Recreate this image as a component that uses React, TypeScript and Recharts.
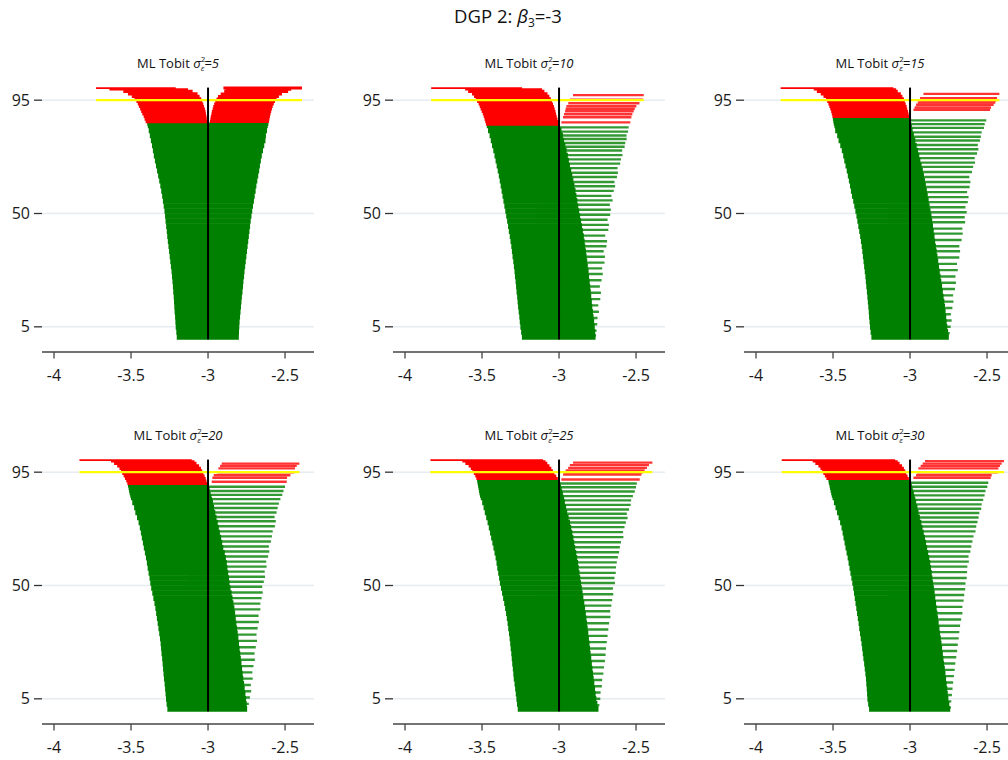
import React from 'react';
import { ScatterChart, Scatter, XAxis, YAxis, CartesianGrid, ReferenceLine } from 'recharts';

// [rank, lower bound, upper bound]
type Interval = [number, number, number];

const TRUE_BETA = -3;
const COVERAGE = 95;

const sigmaLevels = [5, 10, 15, 20, 25, 30];
const xTicks = [-4, -3.5, -3, -2.5];
const yTicks = [5, 50, 95];

// Centile bands for the dense body of each zipper (finer near the top where it bends)
const rankBands = [
  0, 2, 4, 6, 8, 10, 12, 14, 16, 18, 20, 22, 24, 26, 28, 30, 32, 34, 36, 38, 40,
  42, 44, 46, 48, 50, 52, 54, 56, 58, 60, 62, 64, 66, 68, 70, 72, 74, 76, 78, 80,
  82, 84, 85, 86, 87, 88, 89, 90, 91, 92, 93, 94, 95, 96, 97, 98, 99, 99.6, 100,
];

// ---- sigma^2 = 5 ----
const tobit5Lo = [
  -3.203, -3.206, -3.21, -3.212, -3.214, -3.217, -3.219, -3.221, -3.223, -3.226,
  -3.228, -3.231, -3.234, -3.237, -3.241, -3.245, -3.249, -3.253, -3.257, -3.261,
  -3.265, -3.268, -3.272, -3.276, -3.279, -3.283, -3.288, -3.293, -3.298, -3.304,
  -3.31, -3.317, -3.324, -3.331, -3.338, -3.345, -3.352, -3.358, -3.364, -3.371,
  -3.378, -3.385,
  -3.391, -3.395, -3.405, -3.412, -3.418, -3.427, -3.434, -3.441, -3.449, -3.456,
  -3.465, -3.478, -3.495, -3.52, -3.55, -3.64, -3.727,
];
const tobit5Hi = [
  -2.8, -2.799, -2.797, -2.795, -2.792, -2.789, -2.786, -2.783, -2.78, -2.776,
  -2.773, -2.77, -2.766, -2.763, -2.759, -2.755, -2.751, -2.747, -2.743, -2.739,
  -2.735, -2.731, -2.727, -2.723, -2.718, -2.713, -2.708, -2.702, -2.697, -2.691,
  -2.686, -2.68, -2.674, -2.668, -2.663, -2.657, -2.651, -2.643, -2.635, -2.627,
  -2.624, -2.617,
  -2.612, -2.608, -3.006, -3.008, -3.01, -3.013, -3.016, -3.02, -3.026, -3.031,
  -3.037, -3.044, -3.055, -3.068, -3.1, -3.13, -3.21,
];
const tobit5Upper: Interval[] = [
  [86.5, -2.988, -2.604], [87.5, -2.985, -2.601], [88.5, -2.982, -2.598], [89.5, -2.978, -2.594],
  [90.5, -2.975, -2.59], [91.5, -2.97, -2.585], [92.5, -2.966, -2.58], [93.5, -2.96, -2.573],
  [94.5, -2.953, -2.565], [95.5, -2.945, -2.555], [96.5, -2.935, -2.54], [97.5, -2.918, -2.52],
  [98.5, -2.895, -2.48], [99.3, -2.885, -2.46], [99.8, -2.9, -2.39],
];

// ---- sigma^2 = 10 ----
const tobit10Lo = [
  -3.241, -3.246, -3.251, -3.255, -3.258, -3.262, -3.266, -3.269, -3.272, -3.276,
  -3.279, -3.282, -3.286, -3.289, -3.293, -3.297, -3.302, -3.306, -3.31, -3.315,
  -3.32, -3.326, -3.331, -3.337, -3.343, -3.349, -3.355, -3.361, -3.367, -3.373,
  -3.379, -3.385, -3.391, -3.398, -3.405, -3.412, -3.419, -3.427, -3.435, -3.443,
  -3.451, -3.461,
  -3.469, -3.474, -3.479, -3.484, -3.489, -3.495, -3.502, -3.509, -3.515, -3.522,
  -3.532, -3.541, -3.552, -3.565, -3.59, -3.61, -3.83,
];
const tobit10Hi = [
  -2.763, -2.765, -2.768, -2.772, -2.776, -2.78, -2.784, -2.787, -2.791, -2.794,
  -2.798, -2.801, -2.805, -2.808, -2.813, -2.817, -2.821, -2.825, -2.83, -2.834,
  -2.839, -2.845, -2.851, -2.857, -2.863, -2.869, -2.875, -2.881, -2.887, -2.893,
  -2.9, -2.907, -2.914, -2.921, -2.929, -2.936, -2.943, -2.951, -2.959, -2.967,
  -2.975, -2.984,
  -2.994, -3.003, -3.006, -3.01, -3.015, -3.019, -3.023, -3.028, -3.033, -3.039,
  -3.046, -3.053, -3.063, -3.075, -3.095, -3.11, -3.24,
];
const tobit10Upper: Interval[] = [
  [97, -2.909, -2.45], [95.2, -2.93, -2.455], [93.8, -2.94, -2.478], [92.6, -2.952, -2.498],
  [91.6, -2.957, -2.508], [90.6, -2.961, -2.515], [89.4, -2.968, -2.524], [88.2, -2.974, -2.53],
  [86.2, -2.985, -2.537],
  [84.2, -3.012, -2.548], [82.5, -3.02, -2.552], [81, -3.028, -2.562], [79.6, -3.035, -2.561],
  [78, -3.042, -2.57], [76.5, -3.05, -2.574], [75, -3.056, -2.59], [73.2, -3.064, -2.588],
  [71.5, -3.07, -2.598], [69.8, -3.078, -2.603], [68, -3.085, -2.62], [66.2, -3.092, -2.618],
  [64.5, -3.1, -2.624], [62.5, -3.106, -2.64], [60.8, -3.112, -2.636], [59, -3.118, -2.645],
  [57, -3.124, -2.66], [55.2, -3.13, -2.652], [53.5, -3.136, -2.67], [51.5, -3.142, -2.664],
  [49.5, -3.147, -2.668], [47.5, -3.152, -2.685], [45.5, -3.158, -2.676], [43.5, -3.162, -2.68],
  [41.2, -3.168, -2.7], [39, -3.172, -2.688], [37, -3.177, -2.692], [35, -3.182, -2.71],
  [32.8, -3.186, -2.702], [30.5, -3.19, -2.705], [28.2, -3.195, -2.72], [26, -3.199, -2.716],
  [23.5, -3.203, -2.724], [21, -3.207, -2.735], [18.5, -3.211, -2.728], [16, -3.215, -2.732],
  [13.5, -3.219, -2.745], [11, -3.222, -2.741], [8.5, -3.226, -2.75], [6, -3.229, -2.752],
  [3.5, -3.232, -2.756], [1.5, -3.235, -2.76],
];

// ---- sigma^2 = 15 ----
const tobit15Lo = [
  -3.251, -3.256, -3.26, -3.263, -3.266, -3.268, -3.271, -3.274, -3.277, -3.28,
  -3.284, -3.287, -3.29, -3.294, -3.298, -3.302, -3.306, -3.31, -3.314, -3.319,
  -3.324, -3.33, -3.336, -3.342, -3.348, -3.355, -3.362, -3.369, -3.377, -3.384,
  -3.39, -3.397, -3.404, -3.411, -3.419, -3.427, -3.434, -3.443, -3.453, -3.464,
  -3.473, -3.486,
  -3.491, -3.495, -3.498, -3.501, -3.504, -3.508, -3.512, -3.518, -3.524, -3.53,
  -3.538, -3.546, -3.562, -3.58, -3.605, -3.625, -3.84,
];
const tobit15Hi = [
  -2.748, -2.753, -2.758, -2.762, -2.765, -2.769, -2.773, -2.777, -2.782, -2.787,
  -2.792, -2.797, -2.802, -2.807, -2.812, -2.817, -2.822, -2.827, -2.832, -2.837,
  -2.841, -2.846, -2.851, -2.856, -2.861, -2.867, -2.873, -2.879, -2.885, -2.891,
  -2.897, -2.903, -2.91, -2.917, -2.925, -2.933, -2.94, -2.948, -2.957, -2.966,
  -2.975, -2.983,
  -2.988, -2.991, -2.995, -2.998, -3.005, -3.009, -3.013, -3.018, -3.022, -3.028,
  -3.034, -3.04, -3.05, -3.06, -3.08, -3.09, -3.108,
];
const tobit15Upper: Interval[] = [
  [97.5, -2.913, -2.42], [95.8, -2.935, -2.435], [95, -2.94, -2.44], [94.1, -2.95, -2.446],
  [93.2, -2.961, -2.457], [92.1, -2.97, -2.474], [91.2, -2.978, -2.48],
  [87, -3.008, -2.505], [85.5, -3.015, -2.515], [84, -3.022, -2.52], [82.2, -3.03, -2.535],
  [80.5, -3.037, -2.54], [79, -3.044, -2.546], [77.2, -3.051, -2.56], [75.5, -3.058, -2.556],
  [73.8, -3.065, -2.565], [72, -3.072, -2.58], [70.2, -3.079, -2.578], [68.5, -3.086, -2.59],
  [66.5, -3.093, -2.598], [64.5, -3.1, -2.615], [62.5, -3.106, -2.608], [60.5, -3.112, -2.613],
  [58.5, -3.118, -2.63], [56.5, -3.124, -2.62], [54.5, -3.13, -2.625], [52.5, -3.136, -2.64],
  [50.5, -3.141, -2.632], [48.5, -3.146, -2.645], [46.5, -3.151, -2.642], [44, -3.157, -2.66],
  [42, -3.162, -2.658], [39.5, -3.168, -2.665], [37, -3.173, -2.68], [35, -3.178, -2.675],
  [32.5, -3.183, -2.68], [30, -3.188, -2.695], [27.5, -3.193, -2.69], [25, -3.198, -2.705],
  [22.5, -3.202, -2.702], [20, -3.207, -2.708], [17.5, -3.211, -2.72], [15, -3.215, -2.718],
  [12.5, -3.219, -2.725], [10, -3.223, -2.735], [7.5, -3.227, -2.73], [5, -3.23, -2.736],
  [2.5, -3.234, -2.742],
];

// ---- sigma^2 = 20 ----
const tobit20Lo = [
  -3.264, -3.269, -3.273, -3.276, -3.279, -3.282, -3.286, -3.289, -3.292, -3.295,
  -3.298, -3.302, -3.305, -3.308, -3.312, -3.317, -3.322, -3.327, -3.332, -3.337,
  -3.342, -3.348, -3.355, -3.362, -3.369, -3.375, -3.38, -3.386, -3.392, -3.397,
  -3.403, -3.41, -3.417, -3.423, -3.43, -3.436, -3.443, -3.451, -3.461, -3.472,
  -3.48, -3.492,
  -3.5, -3.505, -3.509, -3.513, -3.516, -3.52, -3.524, -3.531, -3.539, -3.548,
  -3.557, -3.565, -3.575, -3.59, -3.61, -3.63, -3.835,
];
const tobit20Hi = [
  -2.746, -2.749, -2.753, -2.757, -2.762, -2.766, -2.771, -2.775, -2.779, -2.783,
  -2.787, -2.791, -2.795, -2.799, -2.803, -2.807, -2.811, -2.816, -2.82, -2.824,
  -2.829, -2.835, -2.841, -2.847, -2.854, -2.86, -2.864, -2.869, -2.874, -2.878,
  -2.884, -2.891, -2.901, -2.908, -2.915, -2.923, -2.93, -2.937, -2.945, -2.953,
  -2.961, -2.968,
  -2.974, -2.978, -2.983, -2.987, -2.99, -2.995, -3.005, -3.01, -3.015, -3.022,
  -3.03, -3.038, -3.046, -3.058, -3.075, -3.088, -3.106,
];
const tobit20Upper: Interval[] = [
  [98.4, -2.911, -2.407], [97.5, -2.922, -2.424], [96.5, -2.933, -2.435], [95, -2.94, -2.44],
  [93.8, -2.963, -2.465], [92.8, -2.972, -2.487], [91.2, -2.976, -2.489],
  [89.2, -3.006, -2.5], [87.5, -3.012, -2.51], [86, -3.018, -2.518], [84.3, -3.025, -2.53],
  [82.5, -3.032, -2.54], [80.8, -3.039, -2.548], [79, -3.046, -2.555], [77.2, -3.053, -2.568],
  [75.5, -3.06, -2.56], [73.5, -3.067, -2.566], [71.5, -3.074, -2.58], [69.5, -3.081, -2.585],
  [67.5, -3.088, -2.592], [65.5, -3.095, -2.605], [63.5, -3.101, -2.602], [61.5, -3.107, -2.61],
  [59.5, -3.113, -2.622], [57.5, -3.119, -2.62], [55.5, -3.125, -2.632], [53.5, -3.131, -2.63],
  [51.5, -3.137, -2.638], [49.5, -3.142, -2.648], [47.2, -3.148, -2.645], [45, -3.153, -2.652],
  [42.8, -3.159, -2.66], [40.5, -3.164, -2.66], [38, -3.17, -2.672], [35.5, -3.175, -2.67],
  [33, -3.18, -2.678], [30.5, -3.186, -2.685], [28, -3.191, -2.682], [25.5, -3.196, -2.69],
  [23, -3.2, -2.698], [20.5, -3.205, -2.696], [18, -3.21, -2.705], [15.5, -3.214, -2.712],
  [13, -3.218, -2.71], [10.5, -3.222, -2.722], [8, -3.226, -2.72], [5.5, -3.23, -2.728],
  [3, -3.234, -2.735],
];

// ---- sigma^2 = 25 ----
const tobit25Lo = [
  -3.268, -3.273, -3.277, -3.281, -3.285, -3.289, -3.294, -3.297, -3.3, -3.304,
  -3.307, -3.31, -3.314, -3.317, -3.321, -3.325, -3.33, -3.334, -3.339, -3.344,
  -3.35, -3.356, -3.363, -3.37, -3.377, -3.384, -3.389, -3.395, -3.401, -3.406,
  -3.412, -3.419, -3.426, -3.433, -3.441, -3.448, -3.456, -3.464, -3.473, -3.482,
  -3.49, -3.499,
  -3.508, -3.513, -3.517, -3.52, -3.523, -3.526, -3.529, -3.532, -3.537, -3.544,
  -3.553, -3.562, -3.573, -3.587, -3.608, -3.628, -3.835,
];
const tobit25Hi = [
  -2.744, -2.751, -2.758, -2.762, -2.766, -2.771, -2.775, -2.779, -2.783, -2.787,
  -2.791, -2.795, -2.799, -2.802, -2.806, -2.81, -2.814, -2.818, -2.822, -2.826,
  -2.831, -2.836, -2.842, -2.847, -2.852, -2.857, -2.862, -2.867, -2.872, -2.876,
  -2.882, -2.888, -2.895, -2.901, -2.907, -2.914, -2.921, -2.929, -2.938, -2.947,
  -2.954, -2.962,
  -2.967, -2.971, -2.975, -2.979, -2.983, -2.987, -2.992, -2.997, -3.008, -3.018,
  -3.03, -3.04, -3.05, -3.062, -3.076, -3.088, -3.104,
];
const tobit25Upper: Interval[] = [
  [98.8, -2.909, -2.394], [97.8, -2.93, -2.416], [96.7, -2.941, -2.429], [95.7, -2.957, -2.444],
  [95, -2.96, -2.455], [94.1, -2.974, -2.465], [92.1, -2.985, -2.476],
  [90.5, -3.004, -2.495], [89, -3.01, -2.5], [87.3, -3.016, -2.508], [85.5, -3.023, -2.52],
  [83.8, -3.03, -2.532], [82, -3.036, -2.535], [80.2, -3.043, -2.545], [78.5, -3.05, -2.56],
  [76.8, -3.056, -2.555], [75, -3.063, -2.566], [73.2, -3.07, -2.575], [71.2, -3.077, -2.585],
  [69.2, -3.084, -2.582], [67.2, -3.091, -2.598], [65.2, -3.098, -2.605], [63.2, -3.104, -2.61],
  [61.2, -3.11, -2.618], [59.2, -3.116, -2.625], [57.2, -3.122, -2.63], [55, -3.128, -2.632],
  [53, -3.134, -2.64], [51, -3.139, -2.637], [48.8, -3.145, -2.65], [46.5, -3.15, -2.648],
  [44.2, -3.156, -2.655], [42, -3.161, -2.66], [39.8, -3.166, -2.668], [37.5, -3.171, -2.666],
  [35, -3.177, -2.675], [32.5, -3.182, -2.68], [30, -3.187, -2.685], [27.5, -3.192, -2.69],
  [25, -3.197, -2.695], [22.5, -3.201, -2.698], [20, -3.206, -2.702], [17.5, -3.21, -2.708],
  [15, -3.214, -2.712], [12.5, -3.218, -2.72], [10, -3.222, -2.722], [7.5, -3.226, -2.73],
  [5, -3.23, -2.732], [2.5, -3.234, -2.738],
];

// ---- sigma^2 = 30 ----
const tobit30Lo = [
  -3.266, -3.272, -3.277, -3.279, -3.281, -3.284, -3.286, -3.29, -3.294, -3.298,
  -3.303, -3.307, -3.311, -3.315, -3.32, -3.325, -3.33, -3.334, -3.339, -3.344,
  -3.349, -3.354, -3.359, -3.364, -3.369, -3.375, -3.381, -3.387, -3.393, -3.399,
  -3.405, -3.412, -3.419, -3.425, -3.432, -3.438, -3.445, -3.454, -3.464, -3.474,
  -3.484, -3.494,
  -3.503, -3.508, -3.512, -3.516, -3.52, -3.523, -3.527, -3.53, -3.543, -3.553,
  -3.563, -3.571, -3.582, -3.595, -3.615, -3.632, -3.833,
];
const tobit30Hi = [
  -2.739, -2.745, -2.751, -2.755, -2.758, -2.762, -2.766, -2.77, -2.774, -2.779,
  -2.783, -2.787, -2.792, -2.796, -2.8, -2.805, -2.809, -2.814, -2.818, -2.822,
  -2.827, -2.831, -2.836, -2.84, -2.845, -2.85, -2.855, -2.859, -2.864, -2.869,
  -2.875, -2.882, -2.889, -2.896, -2.903, -2.911, -2.919, -2.927, -2.936, -2.945,
  -2.952, -2.96,
  -2.966, -2.97, -2.975, -2.979, -2.983, -2.987, -2.991, -2.996, -3.008, -3.016,
  -3.025, -3.031, -3.04, -3.052, -3.068, -3.08, -3.097,
];
const tobit30Upper: Interval[] = [
  [99.4, -2.903, -2.39], [98.4, -2.918, -2.405], [97.5, -2.931, -2.416], [96.5, -2.946, -2.426],
  [95, -2.955, -2.43], [93.8, -2.961, -2.47], [92.8, -2.978, -2.476],
  [90.8, -3.004, -2.492], [89.2, -3.01, -2.498], [87.5, -3.016, -2.51], [85.8, -3.022, -2.516],
  [84, -3.029, -2.525], [82.2, -3.035, -2.535], [80.5, -3.042, -2.538], [78.8, -3.048, -2.55],
  [77, -3.055, -2.555], [75.2, -3.062, -2.562], [73.4, -3.068, -2.57], [71.5, -3.075, -2.575],
  [69.5, -3.082, -2.588], [67.5, -3.089, -2.595], [65.5, -3.096, -2.602], [63.5, -3.102, -2.608],
  [61.5, -3.108, -2.62], [59.5, -3.114, -2.618], [57.5, -3.12, -2.628], [55.3, -3.126, -2.63],
  [53, -3.132, -2.632], [50.8, -3.138, -2.64], [48.5, -3.143, -2.642], [46.2, -3.149, -2.648],
  [44, -3.154, -2.652], [41.5, -3.16, -2.66], [39, -3.165, -2.66], [36.5, -3.17, -2.668],
  [34, -3.176, -2.675], [31.5, -3.181, -2.68], [29, -3.186, -2.684], [26.5, -3.191, -2.69],
  [24, -3.196, -2.694], [21.5, -3.2, -2.7], [19, -3.205, -2.706], [16.5, -3.209, -2.71],
  [14, -3.213, -2.715], [11.5, -3.217, -2.72], [9, -3.221, -2.724], [6.5, -3.225, -2.728],
  [4, -3.229, -2.732], [1.5, -3.232, -2.735],
];

const panelData = [
  { lo: tobit5Lo, hi: tobit5Hi, upper: tobit5Upper, dense: true },
  { lo: tobit10Lo, hi: tobit10Hi, upper: tobit10Upper, dense: false },
  { lo: tobit15Lo, hi: tobit15Hi, upper: tobit15Upper, dense: false },
  { lo: tobit20Lo, hi: tobit20Hi, upper: tobit20Upper, dense: false },
  { lo: tobit25Lo, hi: tobit25Hi, upper: tobit25Upper, dense: false },
  { lo: tobit30Lo, hi: tobit30Hi, upper: tobit30Upper, dense: false },
];

// layout
const FONT = "'Open Sans', 'Noto Sans', sans-serif";
const X_DOMAIN: [number, number] = [-4.078, -2.312];
const Y_DOMAIN: [number, number] = [-5, 105];
const Y_AXIS_W = 42;
const PLOT_W = 272;
const PLOT_H = 277;
const TOP = 75;
const X_AXIS_H = 40;
const CHART_W = 340;
const CHART_H = TOP + PLOT_H + X_AXIS_H;
const COL_X = [0, 351, 702];
const ROW_Y = [0, 372];
const PX_PER_RANK = PLOT_H / (Y_DOMAIN[1] - Y_DOMAIN[0]);

const GREEN = '#008000';
const RED = '#ff0000';

const covers = (lo: number, hi: number) => lo <= TRUE_BETA && hi >= TRUE_BETA;

// the true value, drawn as a vertical line through the rank range
const truthLine = [
  { x: TRUE_BETA, y: rankBands[0] },
  { x: TRUE_BETA, y: rankBands[rankBands.length - 1] },
];

const NoMarker = () => <g />;

const ZipperPanel = ({ lo, hi, upper, dense }: typeof panelData[number]) => {
  const rows = lo.map((l, i) => ({
    rank: (rankBands[i] + rankBands[i + 1]) / 2,
    band: rankBands[i + 1] - rankBands[i],
    lo: l,
    hi: hi[i],
  }));
  const minLo = Math.min(...lo, ...upper.map((u) => u[1]));
  const maxHi = Math.max(...hi, ...upper.map((u) => u[2]));

  return (
    <ScatterChart
      width={CHART_W}
      height={CHART_H}
      margin={{ top: TOP, right: CHART_W - Y_AXIS_W - PLOT_W, bottom: 0, left: 0 }}
    >
      <CartesianGrid vertical={false} horizontalValues={yTicks} stroke="#e6ecf0" strokeWidth={1.4} />
      <XAxis
        type="number"
        dataKey="x"
        domain={X_DOMAIN}
        ticks={xTicks}
        allowDataOverflow
        height={X_AXIS_H}
        tickSize={6.5}
        tickMargin={11}
        axisLine={{ stroke: '#444', strokeWidth: 1.3 }}
        tickLine={{ stroke: '#444', strokeWidth: 1.3 }}
        tick={{ fontSize: 16, fill: '#1a1a1a', fontFamily: FONT }}
      />
      <YAxis
        type="number"
        dataKey="y"
        domain={Y_DOMAIN}
        ticks={yTicks}
        allowDataOverflow
        width={Y_AXIS_W}
        axisLine={false}
        tickSize={8}
        tickMargin={4}
        tickLine={{ stroke: '#333', strokeWidth: 1.3 }}
        tick={{ fontSize: 16, fill: '#1a1a1a', fontFamily: FONT }}
      />
      {rows.map((r, i) => (
        <ReferenceLine
          key={`m${i}`}
          segment={[{ x: r.lo, y: r.rank }, { x: r.hi, y: r.rank }]}
          stroke={covers(r.lo, r.hi) ? GREEN : RED}
          strokeWidth={r.band * PX_PER_RANK + 0.6}
        />
      ))}
      {upper.map(([rank, l, h], i) => (
        <ReferenceLine
          key={`u${i}`}
          segment={[{ x: l, y: rank }, { x: h, y: rank }]}
          stroke={covers(l, h) ? GREEN : RED}
          strokeWidth={dense ? PX_PER_RANK + 0.5 : 2.4}
          strokeOpacity={dense ? 1 : 0.8}
        />
      ))}
      <ReferenceLine
        segment={[{ x: minLo, y: COVERAGE }, { x: maxHi, y: COVERAGE }]}
        stroke="#ffff00"
        strokeWidth={2.2}
      />
      <Scatter
        data={truthLine}
        line={{ stroke: '#000', strokeWidth: 2 }}
        shape={NoMarker}
        isAnimationActive={false}
      />
    </ScatterChart>
  );
};

export default function App() {
  return (
    <div
      style={{
        position: 'absolute',
        left: 0,
        top: 0,
        width: 1008,
        height: 760,
        overflow: 'hidden',
        background: '#fff',
        fontFamily: FONT,
      }}
    >
      {panelData.map((p, i) => (
        <div
          key={i}
          style={{ position: 'absolute', left: COL_X[i % 3], top: ROW_Y[Math.floor(i / 3)] }}
        >
          <ZipperPanel {...p} />
        </div>
      ))}
      <svg
        width={1008}
        height={760}
        style={{ position: 'absolute', left: 0, top: 0, pointerEvents: 'none' }}
      >
        <text x={508} y={23} textAnchor="middle" fontSize={18.5} fontFamily={FONT} fill="#111">
          DGP 2:{' '}
          <tspan fontStyle="italic">β</tspan>
          <tspan fontSize={12} dy={4}>3</tspan>
          <tspan dy={-4}>=-3</tspan>
        </text>
        {sigmaLevels.map((s, i) => (
          <text
            key={s}
            x={COL_X[i % 3] + Y_AXIS_W + PLOT_W / 2}
            y={ROW_Y[Math.floor(i / 3)] + 68}
            textAnchor="middle"
            fontSize={13}
            fontFamily={FONT}
            fill="#111"
          >
            ML Tobit <tspan fontStyle="italic">σ</tspan>
            <tspan fontSize={8} dy={-6}>2</tspan>
            <tspan fontSize={8} dx={-4.6} dy={9} fontStyle="italic">ε</tspan>
            <tspan fontStyle="italic" dy={-3}>={s}</tspan>
          </text>
        ))}
      </svg>
    </div>
  );
}
